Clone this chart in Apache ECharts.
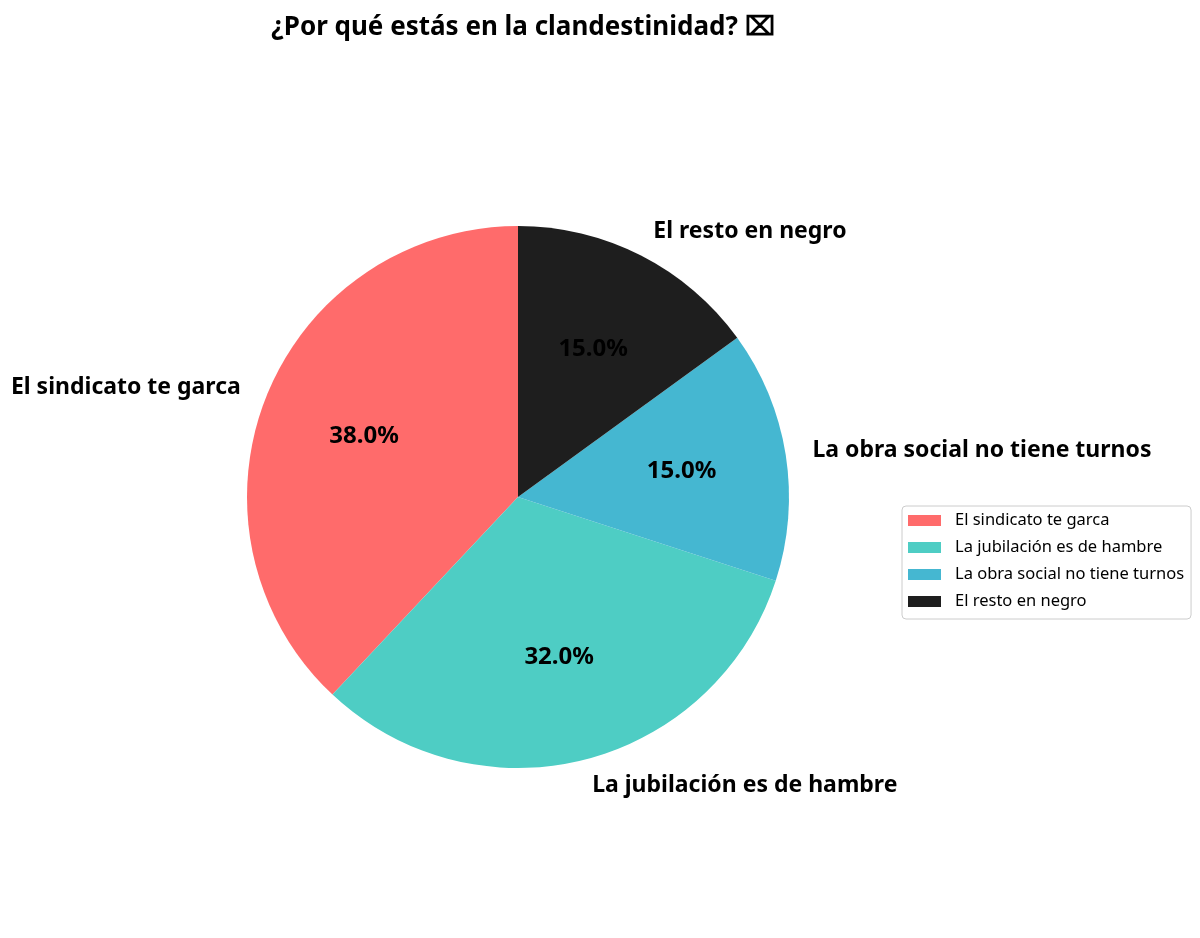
<!DOCTYPE html>
<html>
<head>
<meta charset="utf-8">
<script src="https://cdn.jsdelivr.net/npm/echarts@6/dist/echarts.min.js"></script>
<style>
  html, body { margin: 0; padding: 0; background: #fff; }
  #chart { width: 1200px; height: 938px; }
</style>
</head>
<body>
<div id="chart"></div>
<script>
const categories = [
  'El sindicato te garca',
  'La jubilación es de hambre',
  'La obra social no tiene turnos',
  'El resto en negro'
]
const shares = [38, 32, 15, 15]
const colors = ['#FF6B6B', '#4ECDC4', '#45B7D1', '#1E1E1E']

const FONT = 'Noto Sans'
const R = 271 // radius in px
const cx = 518, cy = 497

const chart = echarts.init(document.getElementById('chart'))

const pieData = categories.map((name, i) => ({
  name,
  value: shares[i],
  itemStyle: { color: colors[i] }
}))

chart.setOption({
  animation: false,
  title: {
    text: '¿Por qué estás en la clandestinidad? ⌧',
    left: cx,
    top: 10,
    textAlign: 'center',
    textStyle: { fontFamily: FONT, fontSize: 26, fontWeight: 'bold', color: '#000' }
  },
  legend: {
    orient: 'vertical',
    left: 902,
    top: 506,
    data: categories,
    icon: 'rect',
    itemWidth: 33,
    itemHeight: 11,
    itemGap: 10,
    padding: [6, 7, 9, 6],
    borderColor: '#cccccc',
    borderWidth: 1,
    borderRadius: 4,
    textStyle: { fontFamily: FONT, fontSize: 16.5, color: '#000', padding: [0, 0, 0, 9] }
  },
  series: [
    {
      // slices + outside labels at 1.1 r
      type: 'pie',
      center: [cx, cy],
      radius: [0, R],
      startAngle: 90,
      clockwise: false,
      avoidLabelOverlap: false,
      data: pieData,
      label: {
        show: true,
        position: 'outside',
        distanceToLabelLine: 0,
        fontFamily: FONT,
        fontSize: 23,
        fontWeight: 'bold',
        color: '#000'
      },
      labelLine: { show: false, length: R * 0.1, length2: 0 },
      emphasis: { scale: false }
    },
    {
      // invisible ring just for percentage labels at 0.6 r
      type: 'pie',
      center: [cx, cy],
      radius: [0, R * 1.2],
      startAngle: 90,
      clockwise: false,
      silent: true,
      z: 3,
      data: categories.map((name, i) => ({ name, value: shares[i] })),
      itemStyle: { color: 'rgba(0,0,0,0)' },
      label: {
        show: true,
        position: 'inside',
        formatter: p => p.value.toFixed(1) + '%',
        fontFamily: FONT,
        fontSize: 24,
        fontWeight: 'bold',
        color: '#000'
      },
      labelLine: { show: false }
    }
  ]
})
</script>
</body>
</html>
